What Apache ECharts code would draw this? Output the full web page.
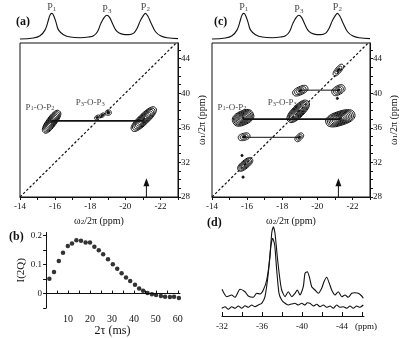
<!DOCTYPE html>
<html><head><meta charset="utf-8">
<script src="https://cdn.jsdelivr.net/npm/echarts@6/dist/echarts.min.js"></script>
<style>html,body{margin:0;padding:0;background:#fff}#c{width:400px;height:338px}</style>
</head><body><div id="c"></div>
<script>
// ---------- DATA ----------
// 1D projection on top of (a) and (c): [ω2 ppm, intensity]
const projPpm = [-14.0,-14.76,-15.14,-15.43,-15.62,-15.71,-15.81,-15.9,-16.04,-16.19,-16.48,-16.86,-17.43,-17.9,-18.19,-18.42,-18.61,-18.8,-18.95,-19.1,-19.3,-19.52,-19.81,-20.19,-20.48,-20.67,-20.86,-21.05,-21.14,-21.28,-21.47,-21.71,-22.0,-22.38,-23.0];
const projInt = [0.037,0.074,0.16,0.38,0.75,0.94,1.0,0.94,0.69,0.38,0.2,0.11,0.086,0.11,0.16,0.32,0.63,0.85,0.93,0.85,0.57,0.32,0.22,0.2,0.26,0.44,0.73,0.94,1.0,0.9,0.63,0.32,0.16,0.086,0.05];
const peakNames = ['P{s|1}','P{s|3}','P{s|2}'];
const peakPos = [-15.81,-18.95,-21.14];
const peakTop = [1.0,0.93,1.0];

// 2D cross peaks: [ω2, ω1, half-length (ppm), half-width (ppm), tilt (deg), contour levels]
const peaksA = [
  [-15.8, 36.7, 0.76, 0.28, 54, 9],
  [-21.05, 37.0, 0.93, 0.30, 44, 9],
  [-18.4, 37.2, 0.17, 0.11, 30, 2],
  [-18.69, 37.45, 0.16, 0.11, 30, 2],
  [-19.03, 37.75, 0.17, 0.15, 10, 2]
];
const peaksC = [
  [-15.77, 37.15, 0.63, 0.40, 25, 9],
  [-21.31, 37.1, 0.86, 0.40, 18, 9],
  [-18.91, 37.9, 0.80, 0.34, 45, 9],
  [-21.2, 42.67, 0.40, 0.17, 50, 3],
  [-19.03, 40.29, 0.46, 0.23, 25, 4],
  [-21.2, 40.35, 0.40, 0.25, 30, 4],
  [-21.14, 39.4, 0.06, 0.06, 0, 1],
  [-15.83, 34.96, 0.34, 0.20, 15, 3],
  [-18.97, 34.9, 0.29, 0.17, 45, 3],
  [-15.89, 31.77, 0.51, 0.23, 40, 6],
  [-15.71, 32.8, 0.06, 0.06, 0, 1],
  [-15.77, 30.3, 0.06, 0.06, 0, 1]
];
// connecting lines: [ω2 from, ω2 to, ω1]
const linksA = [[-15.8, -21.05, 36.8]];
const linksC = [[-15.77, -21.31, 37.0], [-19.03, -21.2, 40.35], [-15.83, -18.97, 34.9]];
const annotText = ['P{s|1}-O-P{s|2}', 'P{s|3}-O-P{s|3}'];
const annotPos = [[-15.14, 38.5], [-18.0, 39.0]];
const diagLine = [[-14, 28], [-23, 46]];
const arrowPos = -21.2;
const arrowTop = 29.7;

// (b) build-up curve
const tau2 = [1.5,3.6,5.8,7.7,9.9,11.8,13.8,15.9,18,20,22,24,26,28.2,30.4,32.4,34.4,36.4,38.3,40.5,42.4,44.2,46.2,48.2,50.1,52.3,54.2,56.4,58.3,60.5];
const i2q = [0.051,0.074,0.112,0.14,0.164,0.172,0.183,0.182,0.176,0.176,0.161,0.149,0.135,0.118,0.101,0.085,0.07,0.055,0.043,0.03,0.017,0.01,0.002,-0.002,-0.005,-0.008,-0.011,-0.012,-0.011,-0.015];

// (d) slices
const dUpPpm = [-32.0,-32.47,-32.97,-33.3,-33.8,-34.3,-34.63,-35.13,-35.47,-35.8,-36.13,-36.47,-36.8,-36.97,-37.13,-37.3,-37.53,-37.8,-37.97,-38.3,-38.63,-38.97,-39.3,-39.53,-39.8,-40.13,-40.3,-40.53,-40.73,-40.97,-41.3,-41.63,-41.97,-42.2,-42.47,-42.73,-42.97,-43.3,-43.63,-43.97,-44.3,-44.63,-44.97,-45.3,-45.63,-45.97,-46.13];
const dUpInt = [26.7,19.3,21,18.7,26.7,24.3,20,18.7,22.7,22,26,36,59.3,82.7,89.3,82.7,59.3,36,26,19.3,24.3,19.3,22.7,26,21,29.3,42.7,44.3,39.3,29.3,26,22.7,27.7,34.3,38.7,32.7,26,21,24.3,19.3,21,18.7,22.7,23.3,22.7,20,17.7];
const dLoPpm = [-31.97,-32.3,-32.63,-32.97,-33.3,-33.63,-33.97,-34.3,-34.63,-34.97,-35.3,-35.63,-35.97,-36.3,-36.63,-36.87,-37.07,-37.27,-37.47,-37.7,-37.97,-38.3,-38.63,-38.97,-39.3,-39.63,-39.97,-40.3,-40.53,-40.8,-41.13,-41.47,-41.8,-42.13,-42.47,-42.8,-43.13,-43.47,-43.8,-44.13,-44.47,-44.8,-45.13,-45.47,-45.8,-46.13];
const dLoInt = [7.7,9.3,6.7,9.3,7.7,10,7.7,10.3,8.7,11,9.3,11,12.7,19.3,42.7,69.3,77.7,71,46,22.7,16,12.7,11,12,12.7,11,12.7,11,13.3,12.7,10,11.7,9.3,11,8.7,10,7.7,11,8.7,9.3,7.7,10,7.7,10,8.7,11];

// tick values
const w2Ticks = [-14,-15,-16,-17,-18,-19,-20,-21,-22,-23];
const w2Labels = [-14,-16,-18,-20,-22];
const w1Ticks = [28,29,30,31,32,33,34,35,36,37,38,39,40,41,42,43,44,45];
const w1Labels = [28,32,36,40,44];
const bXTicks = [0,5,10,15,20,25,30,35,40,45,50,55,60];
const bXLabels = [10,20,30,40,50,60];
const bYTicks = [-0.05,0,0.05,0.1,0.15,0.2];
const bYLabels = [0,0.1,0.2];
const dTicks = [-32,-34,-36,-38,-40,-42,-44,-46];
const dLabels = [-32,-36,-40,-44];

// ---------- CHART ----------
const FF = 'Liberation Serif';
const INK = '#111';
const rich = {
  n: {fontFamily: FF, fontSize: 10, color: INK, verticalAlign: 'bottom', lineHeight: 12},
  s: {fontFamily: FF, fontSize: 7, color: INK, verticalAlign: 'bottom', lineHeight: 9}
};
const richSm = {
  n: {fontFamily: FF, fontSize: 9, color: INK, verticalAlign: 'bottom', lineHeight: 11},
  s: {fontFamily: FF, fontSize: 6.5, color: INK, verticalAlign: 'bottom', lineHeight: 8}
};
function wrap(t){ return t.replace(/(^|\})([^{}]+?)(?=\{|$)/g, (m,p,q)=>p+'{n|'+q+'}'); }

function renderPeak(params, api) {
  const c = api.coord([api.value(0), api.value(1)]);
  const ppx = Math.abs(api.size([1, 0])[0]);
  const a = api.value(2) * ppx, b = api.value(3) * ppx;
  const th = api.value(4) * Math.PI / 180;
  const n = api.value(5);
  const children = [];
  for (let k = n; k >= 1; k--) {
    const s = k / n;
    const pts = [];
    for (let i = 0; i < 32; i++) {
      const t = i / 32 * 2 * Math.PI;
      const ct = Math.cos(t), st = Math.sin(t);
      // slightly squared contour shape
      const ex = a * s * Math.sign(ct) * Math.pow(Math.abs(ct), 0.8);
      const ey = b * s * Math.sign(st) * Math.pow(Math.abs(st), 0.8);
      pts.push([c[0] + ex * Math.cos(th) - ey * Math.sin(th), c[1] - (ex * Math.sin(th) + ey * Math.cos(th))]);
    }
    children.push({type: 'polygon', shape: {points: pts},
      style: {fill: (n === 1 || k === 1) ? INK : 'none', stroke: INK, lineWidth: 1}});
  }
  return {type: 'group', children};
}

function zip(a, b){ return a.map((v,i)=>[v, b[i]]); }

const grids = [
  {left: 20, top: 8, width: 158, height: 32},   // 0 (a) projection
  {left: 20, top: 43, width: 158, height: 154, show: true, borderColor: INK, borderWidth: 1}, // 1 (a)
  {left: 212, top: 8, width: 158, height: 32},  // 2 (c) projection
  {left: 212, top: 43, width: 158, height: 154, show: true, borderColor: INK, borderWidth: 1}, // 3 (c)
  {left: 45, top: 232.5, width: 135, height: 90}, // 4 (b)
  {left: 222, top: 216, width: 142, height: 100}  // 5 (d)
];

const axLbl = {fontFamily: FF, fontSize: 9, color: INK};
function mainX(gi){
  return {type: 'value', gridIndex: gi, min: -23, max: -14, inverse: true,
    axisLine: {show: true, lineStyle: {color: INK}}, splitLine: {show: false},
    axisTick: {show: true, customValues: w2Ticks, length: 3, lineStyle: {color: INK}},
    axisLabel: Object.assign({customValues: w2Labels, margin: 5}, axLbl),
    name: '{n|ω}{s|2}{n|/2π (ppm)}', nameLocation: 'middle', nameGap: 17,
    nameTextStyle: {rich}};
}
function mainY(gi){
  return {type: 'value', gridIndex: gi, position: 'right', min: 28, max: 45.8,
    axisLine: {show: true, lineStyle: {color: INK}}, splitLine: {show: false},
    axisTick: {show: true, customValues: w1Ticks, length: 3, lineStyle: {color: INK}},
    axisLabel: Object.assign({customValues: w1Labels, margin: 3}, axLbl),
    name: '{n|ω}{s|1}{n|/2π (ppm)}', nameLocation: 'middle', nameGap: 17, nameRotate: 90,
    nameTextStyle: {rich}};
}
const hidX = gi => ({type: 'value', gridIndex: gi, min: -23, max: -14, inverse: true, show: false});
const hidY = gi => ({type: 'value', gridIndex: gi, min: 0, max: 1.2, show: false});

const xAxis = [hidX(0), mainX(1), hidX(2), mainX(3),
  {type: 'value', gridIndex: 4, min: -0.5, max: 61,
   axisLine: {show: true, onZero: true, lineStyle: {color: INK}}, splitLine: {show: false},
   axisTick: {show: true, inside: true, customValues: bXTicks, length: 3, lineStyle: {color: INK}},
   axisLabel: Object.assign({customValues: bXLabels, margin: 6}, axLbl, {fontSize: 10}),
   name: '2τ (ms)', nameLocation: 'middle', nameGap: 14,
   nameTextStyle: {fontFamily: FF, fontSize: 12, color: INK}},
  {type: 'value', gridIndex: 5, min: -46.2, max: -32, inverse: true,
   axisLine: {show: true, lineStyle: {color: INK}}, splitLine: {show: false},
   axisTick: {show: true, inside: true, customValues: dTicks, length: 4, lineStyle: {color: INK}},
   axisLabel: Object.assign({customValues: dLabels, margin: 6}, axLbl)}
];
const yAxis = [hidY(0), mainY(1), hidY(2), mainY(3),
  {type: 'value', gridIndex: 4, min: -0.05, max: 0.21,
   axisLine: {show: true, lineStyle: {color: INK}}, splitLine: {show: false},
   axisTick: {show: true, customValues: bYTicks, length: 3, lineStyle: {color: INK}},
   axisLabel: Object.assign({customValues: bYLabels, margin: 3}, axLbl),
   name: 'I(2Q)', nameLocation: 'middle', nameGap: 15, nameRotate: 90,
   nameTextStyle: {fontFamily: FF, fontSize: 11, color: INK}},
  {type: 'value', gridIndex: 5, min: 0, max: 100, show: false}
];

const series = [];
function panel2D(specIdx, mainIdx, peaks, links) {
  series.push({type: 'line', xAxisIndex: specIdx, yAxisIndex: specIdx, data: zip(projPpm, projInt),
    smooth: 0.4, showSymbol: false, lineStyle: {color: INK, width: 1.1}, silent: true});
  series.push({type: 'scatter', xAxisIndex: specIdx, yAxisIndex: specIdx, symbolSize: 0,
    data: peakPos.map((p,i)=>({value: [p, peakTop[i]], name: peakNames[i]})),
    label: {show: true, position: 'top', distance: 1, formatter: p => wrap(p.name), rich}});
  series.push({type: 'line', xAxisIndex: mainIdx, yAxisIndex: mainIdx, data: diagLine,
    showSymbol: false, lineStyle: {color: INK, width: 1.2, type: [2.5, 2]}});
  links.forEach((l, i) => series.push({type: 'line', xAxisIndex: mainIdx, yAxisIndex: mainIdx,
    data: [[l[0], l[2]], [l[1], l[2]]], showSymbol: false,
    lineStyle: {color: INK, width: i === 0 ? 1.8 : 1}}));
  series.push({type: 'custom', xAxisIndex: mainIdx, yAxisIndex: mainIdx, data: peaks,
    renderItem: renderPeak, encode: {x: 0, y: 1}});
  series.push({type: 'line', xAxisIndex: mainIdx, yAxisIndex: mainIdx,
    data: [{value: [arrowPos, 28], symbol: 'none'}, {value: [arrowPos, arrowTop], symbol: 'triangle', symbolSize: [6, 8]}],
    showSymbol: true, itemStyle: {color: INK}, lineStyle: {color: INK, width: 1}});
  series.push({type: 'scatter', xAxisIndex: mainIdx, yAxisIndex: mainIdx, symbolSize: 0,
    data: annotPos.map((p,i)=>({value: p, name: annotText[i]})),
    label: {show: true, position: 'inside', formatter: p => wrap(p.name), rich: richSm}});
}
panel2D(0, 1, peaksA, linksA);
panel2D(2, 3, peaksC, linksC);

series.push({type: 'scatter', xAxisIndex: 4, yAxisIndex: 4, data: zip(tau2, i2q),
  symbol: 'circle', symbolSize: 4.5, itemStyle: {color: '#000'}});
series.push({type: 'line', xAxisIndex: 5, yAxisIndex: 5, data: zip(dUpPpm, dUpInt),
  smooth: 0.2, showSymbol: false, lineStyle: {color: INK, width: 1.1}});
series.push({type: 'line', xAxisIndex: 5, yAxisIndex: 5, data: zip(dLoPpm, dLoInt),
  smooth: 0.2, showSymbol: false, lineStyle: {color: INK, width: 1.1}});

const panelTxt = (t, x, y) => ({type: 'text', left: x, top: y,
  style: {text: t, fontFamily: FF, fontSize: 12, fontWeight: 'bold', fill: INK}});

const chart = echarts.init(document.getElementById('c'), null, {renderer: 'canvas'});
chart.setOption({
  animation: false,
  backgroundColor: '#fff',
  grid: grids, xAxis, yAxis, series,
  graphic: [
    panelTxt('(a)', 16, 16), panelTxt('(c)', 214, 16),
    panelTxt('(b)', 9, 231), panelTxt('(d)', 207, 217),
    {type: 'text', left: 355, top: 322, style: {text: '(ppm)', fontFamily: FF, fontSize: 9, fill: INK}}
  ]
});
</script></body></html>
